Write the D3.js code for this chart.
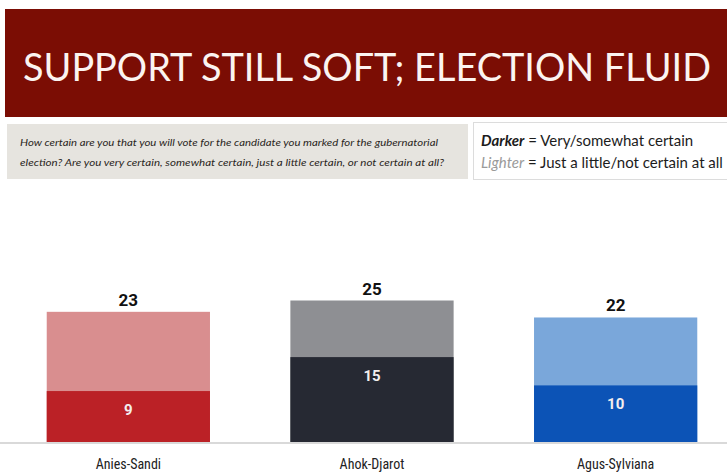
<!DOCTYPE html>
<html>
<head>
<meta charset="utf-8">
<script src="https://cdn.jsdelivr.net/npm/d3@7/dist/d3.min.js"></script>
<style>
html,body{margin:0;padding:0;background:#fff;}
svg{display:block;}
</style>
</head>
<body>
<svg id="chart" width="727" height="476"></svg>
<script>
const title = "SUPPORT STILL SOFT; ELECTION FLUID";
const questionLines = [
  "How certain are you that you will vote for the candidate you marked for the gubernatorial",
  "election? Are you very certain, somewhat certain, just a little certain, or not certain at all?"
];
const categories = ["Anies-Sandi", "Ahok-Djarot", "Agus-Sylviana"];
const totalValues = [23, 25, 22];     // very/somewhat + just a little/not certain
const certainValues = [9, 15, 10];    // very/somewhat certain
const darkColors = ["#bb2126", "#262933", "#0c53b6"];
const lightColors = ["#d98e8f", "#8e8f93", "#7aa7da"];

const svg = d3.select("#chart");
const W = 727, H = 476;

// Banner
svg.append("rect").attr("x", 0).attr("y", 0).attr("width", W).attr("height", H).attr("fill", "#ffffff");
svg.append("rect").attr("x", 5).attr("y", 9).attr("width", W - 5).attr("height", 108).attr("fill", "#7b0d04");
const t = svg.append("text").attr("x", 23).attr("y", 81)
  .attr("fill", "#fbf4f1")
  .style("font-family", "Lato, 'Open Sans', sans-serif")
  .style("font-size", "40px")
  .text(title);
const natural = t.node().getComputedTextLength();
t.style("font-size", (40 * 688 / natural).toFixed(2) + "px");

// Question box
svg.append("rect").attr("x", 7).attr("y", 124).attr("width", 461).attr("height", 55).attr("fill", "#e6e4df");
svg.selectAll("text.q").data(questionLines).join("text").attr("class", "q")
  .attr("x", 20).attr("y", (d, i) => 146 + i * 20)
  .attr("fill", "#2a2622")
  .style("font-family", "Lato, 'Open Sans', sans-serif")
  .style("font-style", "italic")
  .style("font-size", "10px")
  .attr("textLength", (d, i) => i === 0 ? 418 : 424)
  .attr("lengthAdjust", "spacingAndGlyphs")
  .text(d => d);

// Legend box
svg.append("rect").attr("x", 473.5).attr("y", 122.5).attr("width", 260).attr("height", 57)
  .attr("fill", "#ffffff").attr("stroke", "#dcdcdc");
const l1 = svg.append("text").attr("x", 481).attr("y", 146)
  .style("font-family", "Lato, 'Open Sans', sans-serif").style("font-size", "15px").attr("fill", "#1c1c1c");
l1.append("tspan").style("font-weight", "bold").style("font-style", "italic").text("Darker");
l1.append("tspan").text(" = Very/somewhat certain");
const l2 = svg.append("text").attr("x", 481).attr("y", 168)
  .style("font-family", "Lato, 'Open Sans', sans-serif").style("font-size", "15px").attr("fill", "#1c1c1c");
l2.append("tspan").style("font-style", "italic").attr("fill", "#9a9a9a").text("Lighter");
l2.append("tspan").text(" = Just a little/not certain at all");

// Chart
const x = d3.scaleBand().domain(categories).range([-2, 746]).paddingInner(0.33).paddingOuter(0.2);
const y = d3.scaleLinear().domain([0, 25]).range([442, 442 - 25 * 5.66]);

const data = categories.map((c, i) => ({c, total: totalValues[i], certain: certainValues[i], dark: darkColors[i], light: lightColors[i]}));

const g = svg.append("g");
g.selectAll("rect.light").data(data).join("rect").attr("class", "light")
  .attr("x", d => x(d.c)).attr("width", x.bandwidth())
  .attr("y", d => y(d.total)).attr("height", d => y(0) - y(d.total))
  .attr("fill", d => d.light);
g.selectAll("rect.dark").data(data).join("rect").attr("class", "dark")
  .attr("x", d => x(d.c)).attr("width", x.bandwidth())
  .attr("y", d => y(d.certain)).attr("height", d => y(0) - y(d.certain))
  .attr("fill", d => d.dark);

// Baseline axis
const axis = d3.axisBottom(x).tickSize(0).tickPadding(16);
const ax = svg.append("g").attr("transform", `translate(0,${y(0) + 1})`).call(axis);
ax.select(".domain").remove();
ax.append("line").attr("x1", 0).attr("x2", W).attr("y1", 0).attr("y2", 0)
  .attr("stroke", "#d9d9d9").attr("stroke-width", 2);
ax.selectAll(".tick text")
  .attr("fill", "#222")
  .style("font-family", "'Liberation Sans Narrow', 'Roboto Condensed', Roboto, sans-serif")
  .style("font-size", "14px");

// Value labels
g.selectAll("text.tot").data(data).join("text").attr("class", "tot")
  .attr("x", d => x(d.c) + x.bandwidth() / 2).attr("y", d => y(d.total) - 6)
  .attr("text-anchor", "middle").attr("fill", "#111")
  .style("font-family", "'Liberation Sans Narrow', Roboto, sans-serif")
  .style("font-weight", "bold").style("font-size", "17px")
  .text(d => d.total);
g.selectAll("text.cer").data(data).join("text").attr("class", "cer")
  .attr("x", d => x(d.c) + x.bandwidth() / 2).attr("y", d => y(d.certain) + 24)
  .attr("text-anchor", "middle").attr("fill", "#f3eeee")
  .style("font-family", "'Liberation Sans Narrow', Roboto, sans-serif")
  .style("font-weight", "bold").style("font-size", "15px")
  .text(d => d.certain);
</script>
</body>
</html>
